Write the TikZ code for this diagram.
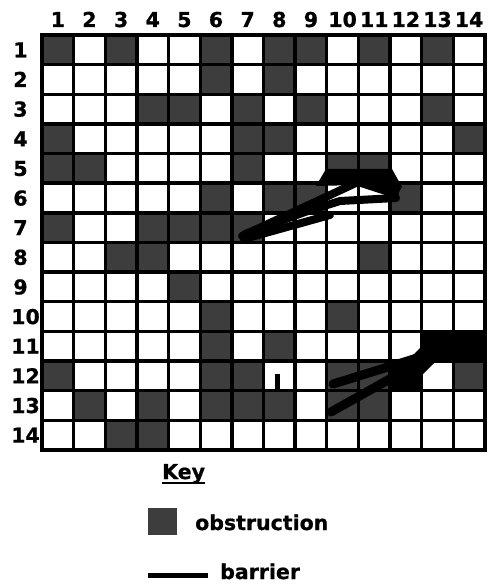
\documentclass[tikz,border=0pt]{standalone}
\usepackage{fontspec}
\setmainfont{DejaVu Sans}[BoldFeatures={FakeBold=0.8}]
\usetikzlibrary{calc}
\definecolor{obst}{gray}{0.24}
\begin{document}
\begin{tikzpicture}[x=1pt,y=-1pt,
  lbl/.style={font=\fontsize{20.5}{24}\selectfont\bfseries, inner sep=0pt},
  gridln/.style={line width=3.4pt, black},
  barrierln/.style={line width=8pt, black, line cap=round, line join=round},
  obstcell/.style={fill=obst}]
\useasboundingbox (0,0) rectangle (487,585);
\fill[white] (0,0) rectangle (487,585);
\def\gx{42}\def\gy{35}\def\cw{31.64}\def\ch{29.64}
% obstructions
\foreach \r/\c in {1/1,1/3,1/6,1/8,1/9,1/11,1/13,
  2/6,2/8,
  3/4,3/5,3/7,3/9,3/13,
  4/1,4/7,4/8,4/14,
  5/1,5/2,5/7,5/10,5/11,
  6/6,6/8,6/9,6/12,
  7/1,7/4,7/5,7/6,7/7,
  8/3,8/4,8/11,
  9/5,
  10/6,10/10,
  11/6,11/8,
  12/1,12/6,12/7,12/10,12/11,12/12,12/14,
  13/2,13/4,13/6,13/7,13/8,13/10,13/11,
  14/3,14/4}
  \fill[obstcell] ({\gx+(\c-1)*\cw},{\gy+(\r-1)*\ch}) rectangle ++(\cw,\ch);
% grid
\foreach \i in {1,...,13} {
  \draw[gridln] ({\gx+\i*\cw},\gy) -- ({\gx+\i*\cw},{\gy+14*\ch});
  \draw[gridln] (\gx,{\gy+\i*\ch}) -- ({\gx+14*\cw},{\gy+\i*\ch});
}
\draw[line width=3.8pt] (\gx,\gy) rectangle ({\gx+14*\cw},{\gy+14*\ch});
% column and row numbers
\foreach \c in {1,...,14}
  \node[lbl, anchor=base] (col\c) at ({\gx+(\c-0.5)*\cw},27) {\c};
\foreach \r in {1,...,9}
  \node[lbl, anchor=base] (row\r) at (20.5,{\gy+(\r-0.5)*\ch+7.5}) {\r};
\foreach \r in {10,...,14}
  \node[lbl, anchor=base east] (row\r) at (40,{\gy+(\r-0.5)*\ch+7.5}) {\r};
% upper barrier
\fill (316,186) -- (326,169) -- (392,169) -- (402,187) -- (396,197) -- (358,185) -- cycle;
\draw[barrierln] (242,236) -- (358,182) -- (395,194);
\draw[barrierln] (396,198) -- (340,201) -- (305,212) -- (245,234);
\draw[barrierln] (244,239) -- (330,215);
% lower barrier
\fill (421,331) rectangle (486.5,361);
\fill (390,361) rectangle (422,391);
\fill (406,362) -- (422,346) -- (422,362) -- cycle;
\fill (421,360) -- (437,360) -- (421,376) -- cycle;
\draw[barrierln, line width=9pt] (333,384) -- (430,354);
\draw[barrierln, line width=9pt] (331,412) -- (420,362);
% small barrier in row 12, col 8
\draw[line width=5pt] (277.7,389) -- (277.7,374);
% key
\node[lbl, anchor=base west] (key) at (162,479) {Key};
\draw[line width=2.2pt] ($(key.base west)+(0,4)$) -- ($(key.base east)+(0,4)$);
\fill[obstcell] (148,508) rectangle (177,535);
\node[lbl, anchor=base west] (obsttxt) at (195,530) {obstruction};
\draw[line width=5pt] (148,575.5) -- (208,575.5);
\node[lbl, anchor=base west] (barrtxt) at (220,579) {barrier};
\end{tikzpicture}
\end{document}
